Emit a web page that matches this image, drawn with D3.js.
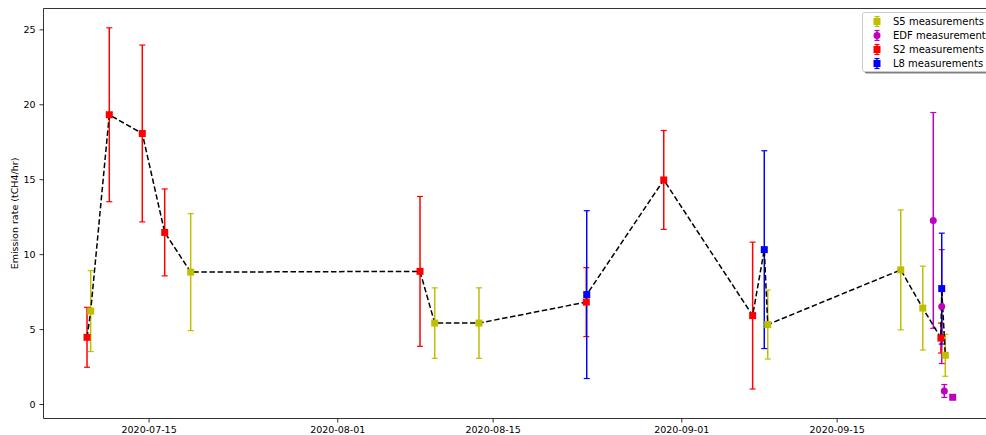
<!DOCTYPE html>
<html><head><meta charset="utf-8">
<script src="https://cdn.jsdelivr.net/npm/d3@7"></script>
<style>body{margin:0;background:#fff;overflow:hidden} text{font-family:"DejaVu Sans",sans-serif}</style>
</head><body><svg id="c" width="986" height="435"></svg>
<script>
// ---- data ----
const s5Dates = ["2020-07-09T18:45","2020-07-18T19:00","2020-08-09T18:45","2020-08-13T18:30","2020-09-08T19:00","2020-09-20T18:40","2020-09-22T18:15","2020-09-24T19:00"];
const s5Values = [6.2, 8.8, 5.4, 5.4, 5.3, 8.95, 6.4, 3.25];
const s5Errors = [2.7, 3.9, 2.35, 2.35, 2.3, 4.0, 2.8, 1.4];

const edfDates = ["2020-09-23T17:00","2020-09-24T11:15","2020-09-24T16:50"];
const edfValues = [12.25, 6.5, 0.87];
const edfErrors = [7.2, 3.8, 0.43];
const edfExtraDates = ["2020-09-25T11:00"];
const edfExtraValues = [0.45];

const s2Dates = ["2020-07-09T10:50","2020-07-11T11:00","2020-07-14T10:20","2020-07-16T10:50","2020-08-08T11:00","2020-08-23T10:35","2020-08-30T10:05","2020-09-07T10:20","2020-09-24T09:30"];
const s2Values = [4.45, 19.3, 18.05, 11.45, 8.85, 6.8, 14.95, 5.9, 4.4];
const s2Errors = [2.0, 5.8, 5.9, 2.9, 5.0, 2.3, 3.3, 4.9, 1.0];

const l8Dates = ["2020-08-23T11:30","2020-09-08T11:30","2020-09-24T11:15"];
const l8Values = [7.3, 10.3, 7.7];
const l8Errors = [5.6, 6.6, 3.7];

const yTicks = [0, 5, 10, 15, 20, 25];
const xTickLabels = ["2020-07-15","2020-08-01","2020-08-15","2020-09-01","2020-09-15"];
const legendLabels = ["S5 measurements","EDF measurements","S2 measurements","L8 measurements"];

// ---- build ----
const parse = d3.utcParse("%Y-%m-%dT%H:%M");
const parseDay = d3.utcParse("%Y-%m-%d");
const mk = (dates, vals, errs) => dates.map((d,i)=>({t:parse(d), v:vals[i], e:errs?errs[i]:0}));
const S5 = mk(s5Dates, s5Values, s5Errors);
const EDF = mk(edfDates, edfValues, edfErrors);
const EDFx = mk(edfExtraDates, edfExtraValues, null);
const S2 = mk(s2Dates, s2Values, s2Errors);
const L8 = mk(l8Dates, l8Values, l8Errors);

const col = {s5:"#bfbf00", edf:"#bf00bf", s2:"#ff0000", l8:"#0000ff"};

const svg = d3.select("#c");
const L = 43.5, T = 8.5, B = 418.5, R = 986;
const x = d3.scaleUtc().domain([parse("2020-07-05T12:42"), parse("2020-09-28T11:00")]).range([L, R]);
const y = d3.scaleLinear().domain([-0.967, 26.39]).range([B, T]);

// axes
const xAxis = d3.axisBottom(x).tickValues(xTickLabels.map(parseDay)).tickFormat(d3.utcFormat("%Y-%m-%d")).tickSize(4).tickPadding(4);
const gx = svg.append("g").attr("transform",`translate(0,${B})`).call(xAxis);
const yAxis = d3.axisLeft(y).tickValues(yTicks).tickSize(4).tickPadding(4);
const gy = svg.append("g").attr("transform",`translate(${L},0)`).call(yAxis);
[gx, gy].forEach(g=>{
  g.select(".domain").remove();
  g.selectAll("line").attr("stroke","#000").attr("stroke-width",0.8);
  g.selectAll("text").attr("font-size","9.5px").attr("fill","#000").attr("font-family","DejaVu Sans");
});
// spines
svg.append("line").attr("x1",L).attr("x2",L).attr("y1",T).attr("y2",B).attr("stroke","#000").attr("stroke-width",0.8);
svg.append("line").attr("x1",L).attr("x2",R+5).attr("y1",B).attr("y2",B).attr("stroke","#000").attr("stroke-width",0.8);
svg.append("line").attr("x1",L).attr("x2",R+5).attr("y1",T).attr("y2",T).attr("stroke","#000").attr("stroke-width",0.8);

svg.append("text").attr("transform",`translate(18,${(T+B)/2}) rotate(-90)`).attr("text-anchor","middle")
  .attr("font-size","9.5px").text("Emission rate (tCH4/hr)");

// error bars
const cap = 3;
function errbars(data, c){
  const g = svg.append("g").attr("stroke", c).attr("stroke-width", 1.5).attr("fill","none");
  data.forEach(d=>{
    if(!d.e) return;
    const cx = x(d.t), y1 = y(d.v - d.e), y2 = y(d.v + d.e);
    g.append("line").attr("x1",cx).attr("x2",cx).attr("y1",y1).attr("y2",y2);
    g.append("line").attr("x1",cx-cap).attr("x2",cx+cap).attr("y1",y1).attr("y2",y1).attr("stroke-width",1.2);
    g.append("line").attr("x1",cx-cap).attr("x2",cx+cap).attr("y1",y2).attr("y2",y2).attr("stroke-width",1.2);
  });
}
errbars(S5, col.s5); errbars(EDF, col.edf); errbars(S2, col.s2); errbars(L8, col.l8);

// dashed line through satellite measurements in time order
const combined = [...S5, ...S2, ...L8].sort((a,b)=>a.t-b.t);
svg.append("path").datum(combined)
  .attr("d", d3.line().x(d=>x(d.t)).y(d=>y(d.v)))
  .attr("fill","none").attr("stroke","#000").attr("stroke-width",1.5).attr("stroke-dasharray","5.5,2.6");

// markers
const ms = 7;
function squares(data, c){
  svg.append("g").selectAll("rect").data(data).join("rect")
    .attr("x", d=>x(d.t)-ms/2).attr("y", d=>y(d.v)-ms/2).attr("width",ms).attr("height",ms).attr("fill",c);
}
function circles(data, c){
  svg.append("g").selectAll("circle").data(data).join("circle")
    .attr("cx", d=>x(d.t)).attr("cy", d=>y(d.v)).attr("r",ms/2).attr("fill",c);
}
squares(S5, col.s5); circles(EDF, col.edf); squares(EDFx, col.edf); squares(S2, col.s2); squares(L8, col.l8);

// legend
const lg = svg.append("g");
lg.append("rect").attr("x",864.5).attr("y",14.5).attr("width",140).attr("height",59).attr("rx",2).attr("fill","#808080");
lg.append("rect").attr("x",862.5).attr("y",12.5).attr("width",140).attr("height",59).attr("rx",2).attr("fill","#fff").attr("stroke","#cccccc").attr("stroke-width",1);
const legCols = [col.s5, col.edf, col.s2, col.l8];
const legShapes = ["s","o","s","s"];
legendLabels.forEach((lab,i)=>{
  const cy = 21.5 + i*14, cx = 877;
  const g = lg.append("g");
  g.append("line").attr("x1",cx).attr("x2",cx).attr("y1",cy-5).attr("y2",cy+5).attr("stroke",legCols[i]).attr("stroke-width",1.5);
  g.append("line").attr("x1",cx-2.5).attr("x2",cx+2.5).attr("y1",cy-5).attr("y2",cy-5).attr("stroke",legCols[i]).attr("stroke-width",1.2);
  g.append("line").attr("x1",cx-2.5).attr("x2",cx+2.5).attr("y1",cy+5).attr("y2",cy+5).attr("stroke",legCols[i]).attr("stroke-width",1.2);
  if(legShapes[i]==="s") g.append("rect").attr("x",cx-3.5).attr("y",cy-3.5).attr("width",7).attr("height",7).attr("fill",legCols[i]);
  else g.append("circle").attr("cx",cx).attr("cy",cy).attr("r",3.5).attr("fill",legCols[i]);
  g.append("text").attr("x",893).attr("y",cy+3.5).attr("font-size","10px").attr("fill","#000").text(lab);
});
</script></body></html>
